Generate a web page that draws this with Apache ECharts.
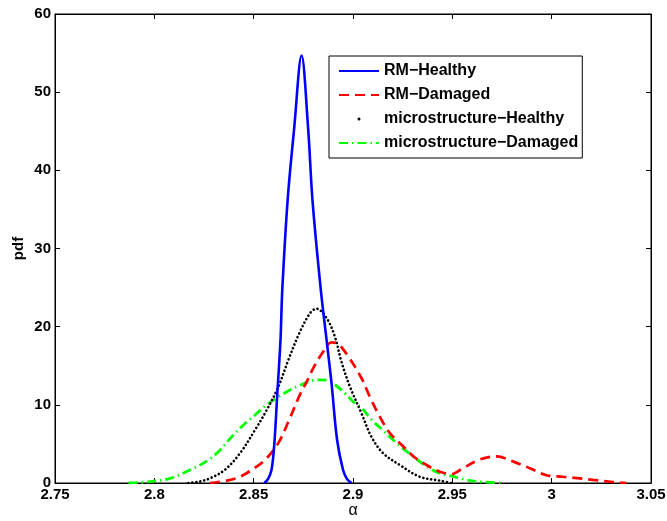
<!DOCTYPE html>
<html>
<head>
<meta charset="utf-8">
<script src="https://cdn.jsdelivr.net/npm/echarts@6/dist/echarts.min.js"></script>
<style>
  html, body { margin: 0; padding: 0; background: #fff; }
  #chart { width: 667px; height: 521px; }
</style>
</head>
<body>
<div id="chart"></div>
<script>
// Axis ticks
const xTickValues = [2.75, 2.8, 2.85, 2.9, 2.95, 3, 3.05];
const xTickLabels = ['2.75', '2.8', '2.85', '2.9', '2.95', '3', '3.05'];
const yTickValues = [0, 10, 20, 30, 40, 50, 60];
const yTickLabels = ['0', '10', '20', '30', '40', '50', '60'];

// Series names
const seriesNames = ['RM\u2212Healthy', 'RM\u2212Damaged', 'microstructure\u2212Healthy', 'microstructure\u2212Damaged'];

// RM - Healthy
const rmHealthyAlpha = [2.8553, 2.8572, 2.8590, 2.8604, 2.8618, 2.8635, 2.8644, 2.8671, 2.8704, 2.8741,
                        2.8774, 2.8796, 2.8838, 2.8867, 2.8892, 2.8920, 2.8950, 2.8970, 2.8993];
const rmHealthyPdf   = [0, 0.5, 1.7, 5.0, 11.0, 18.3, 24.7, 36.2, 45.4, 54.7,
                        45.4, 36.2, 24.7, 18.3, 12.75, 5.5, 1.66, 0.5, 0];

// RM - Damaged
const rmDamagedAlpha = [2.8280, 2.8364, 2.8431, 2.8515, 2.8565, 2.8624, 2.8674, 2.8733, 2.8766, 2.8800,
                        2.8850, 2.8892, 2.8925, 2.8976, 2.9043, 2.9085, 2.9143, 2.9185, 2.9244, 2.9302,
                        2.9370, 2.9437, 2.9495, 2.9554, 2.9638, 2.9722, 2.9810, 2.9890, 2.9973, 3.0057,
                        3.0140, 3.0208, 3.0309, 3.0376];
const rmDamagedPdf   = [0, 0.3, 0.8, 2.1, 3.15, 5.1, 7.8, 11.3, 12.9, 14.7,
                        16.8, 18.0, 17.8, 16.2, 13.4, 11.0, 8.1, 6.4, 4.9, 3.45,
                        2.3, 1.45, 1.15, 1.9, 3.0, 3.4, 2.7, 1.9, 1.0, 0.8,
                        0.6, 0.4, 0.13, 0];

// microstructure - Healthy
const msHealthyAlpha = [2.8171, 2.8230, 2.8280, 2.8356, 2.8431, 2.8507, 2.8565, 2.8624, 2.8674, 2.8727,
                        2.8783, 2.8816, 2.8867, 2.8909, 2.8942, 2.8985, 2.9043, 2.9093, 2.9152, 2.9236,
                        2.9336, 2.9437, 2.9495];
const msHealthyPdf   = [0, 0.2, 0.6, 1.7, 3.8, 6.8, 9.3, 12.3, 15.7, 19.0,
                        21.7, 22.3, 21.1, 18.7, 15.5, 12.3, 8.9, 5.9, 3.8, 2.3,
                        0.8, 0.3, 0];

// microstructure - Damaged
const msDamagedAlpha = [2.7870, 2.7978, 2.8079, 2.8179, 2.8270, 2.8330, 2.8389, 2.8447, 2.8507, 2.8565,
                        2.8624, 2.8683, 2.8733, 2.8783, 2.8833, 2.8884, 2.8950, 2.9001, 2.9043, 2.9093,
                        2.9152, 2.9224, 2.9302, 2.9378, 2.9437, 2.9493, 2.9572, 2.9654, 2.9755];
const msDamagedPdf   = [0, 0.17, 0.6, 1.66, 2.9, 4.2, 5.9, 7.4, 8.7, 10.0,
                        11.0, 11.9, 12.5, 13.0, 13.2, 13.0, 11.7, 10.4, 9.6, 8.1,
                        6.7, 5.0, 3.4, 2.0, 1.25, 0.9, 0.4, 0.13, 0];

const zip = (xs, ys) => xs.map((x, i) => [x, ys[i]]);
const FONT = "'Liberation Sans', Arial, Helvetica, sans-serif";

const labelFor = (values, labels) => (v) => {
  const i = values.findIndex(t => Math.abs(t - v) < 1e-9);
  return i >= 0 ? labels[i] : '';
};

const baseAxis = {
  axisLine: { show: true, onZero: false, lineStyle: { color: '#000', width: 1 } },
  axisTick: { show: true, inside: true, length: 5, lineStyle: { color: '#000', width: 1 } },
  splitLine: { show: false }
};

const chart = echarts.init(document.getElementById('chart'), null, { renderer: 'canvas' });

chart.setOption({
  backgroundColor: '#fff',
  animation: false,
  grid: {
    left: 55, right: 16, top: 14, bottom: 38,
    containLabel: false, outerBoundsMode: 'none',
    show: true, borderColor: '#000', borderWidth: 1, backgroundColor: 'transparent'
  },
  xAxis: [
    Object.assign({}, baseAxis, {
      type: 'value', min: 2.75, max: 3.05, interval: 0.05, position: 'bottom',
      name: '\u03b1', nameLocation: 'middle', nameGap: 20, nameMoveOverlap: false,
      nameTextStyle: { fontFamily: FONT, fontSize: 16, color: '#000' },
      axisLabel: { show: true, margin: 4, fontFamily: FONT, fontSize: 15, fontWeight: 'bold', color: '#000',
                   formatter: labelFor(xTickValues, xTickLabels) }
    }),
    Object.assign({}, baseAxis, {
      type: 'value', min: 2.75, max: 3.05, interval: 0.05, position: 'top',
      axisLabel: { show: false }
    })
  ],
  yAxis: [
    Object.assign({}, baseAxis, {
      type: 'value', min: 0, max: 60, interval: 10, position: 'left',
      name: 'pdf', nameLocation: 'middle', nameGap: 29, nameRotate: 90, nameMoveOverlap: false,
      nameTextStyle: { fontFamily: FONT, fontSize: 15, fontWeight: 'bold', color: '#000' },
      axisLabel: { show: true, margin: 4, fontFamily: FONT, fontSize: 15, fontWeight: 'bold', color: '#000',
                   formatter: labelFor(yTickValues, yTickLabels) }
    }),
    Object.assign({}, baseAxis, {
      type: 'value', min: 0, max: 60, interval: 10, position: 'right',
      axisLabel: { show: false }
    })
  ],
  legend: {
    left: 329, top: 56,
    orient: 'vertical',
    backgroundColor: '#fff',
    borderColor: '#000', borderWidth: 1,
    padding: [7, 4, 7, 9],
    itemWidth: 40, itemHeight: 3, itemGap: 8,
    itemStyle: { opacity: 0 },
    textStyle: { fontFamily: FONT, fontSize: 16, fontWeight: 'bold', color: '#000' },
    data: [
      { name: seriesNames[0] },
      { name: seriesNames[1] },
      { name: seriesNames[2], icon: 'circle', itemStyle: { opacity: 1, color: '#000' } },
      { name: seriesNames[3] }
    ]
  },
  series: [
    {
      name: seriesNames[0], type: 'line', data: zip(rmHealthyAlpha, rmHealthyPdf),
      symbol: 'none', showSymbol: false, smooth: 0.35, z: 4,
      itemStyle: { color: '#0000ff' },
      lineStyle: { color: '#0000ff', width: 2.6, type: 'solid' }
    },
    {
      name: seriesNames[1], type: 'line', data: zip(rmDamagedAlpha, rmDamagedPdf),
      symbol: 'none', showSymbol: false, smooth: 0.35, z: 3,
      itemStyle: { color: '#ff0000' },
      lineStyle: { color: '#ff0000', width: 2.7, type: [10, 6] }
    },
    {
      name: seriesNames[2], type: 'line', data: zip(msHealthyAlpha, msHealthyPdf),
      symbol: 'none', showSymbol: false, smooth: 0.35, z: 2,
      itemStyle: { color: '#000000' },
      lineStyle: { color: '#000000', width: 2.6, type: [0.1, 3.9], cap: 'round' }
    },
    {
      name: seriesNames[3], type: 'line', data: zip(msDamagedAlpha, msDamagedPdf),
      symbol: 'none', showSymbol: false, smooth: 0.35, z: 1,
      itemStyle: { color: '#00ff00' },
      lineStyle: { color: '#00ff00', width: 2.8, type: [9, 4, 1.5, 4] }
    }
  ]
});
</script>
</body>
</html>
